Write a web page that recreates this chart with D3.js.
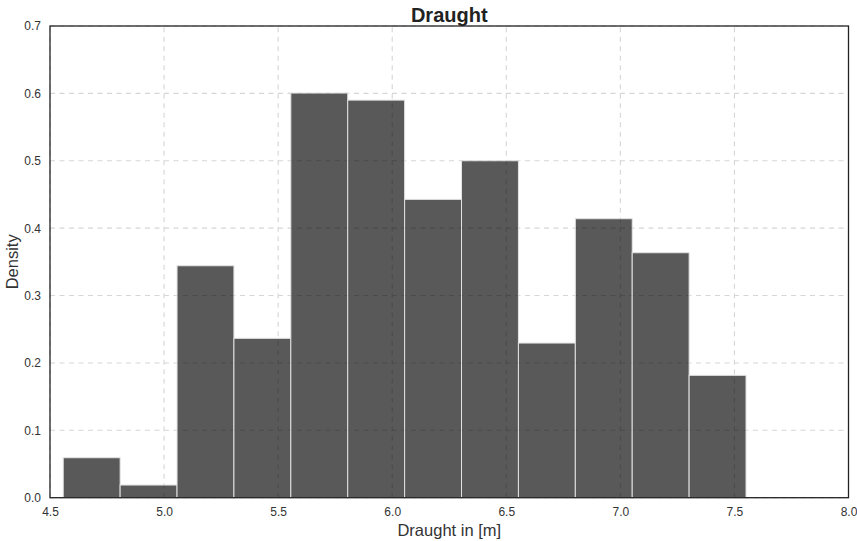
<!DOCTYPE html>
<html>
<head>
<meta charset="utf-8">
<script src="https://cdn.jsdelivr.net/npm/d3@7"></script>
<style>
  html, body { margin: 0; padding: 0; background: #fff; }
  svg { display: block; font-family: "Liberation Sans", Arial, sans-serif; }
</style>
</head>
<body>
<svg id="chart" width="857" height="541"></svg>
<script>
// Histogram of ship draught: bin edges and density per bin
const binStart = 4.558;
const binWidth = 0.2494;
const densities = [0.0593, 0.0188, 0.3442, 0.2365, 0.6005, 0.590, 0.4427, 0.500, 0.2295, 0.414, 0.3635, 0.1816];
const xTicks = [4.5, 5.0, 5.5, 6.0, 6.5, 7.0, 7.5, 8.0];
const yTicks = [0.0, 0.1, 0.2, 0.3, 0.4, 0.5, 0.6, 0.7];

const bins = densities.map((d, i) => ({
  x0: binStart + i * binWidth,
  x1: binStart + (i + 1) * binWidth,
  density: d
}));

const margin = { left: 50, right: 8.5, top: 26, bottom: 43.3 };
const width = 857, height = 541;
const svg = d3.select("#chart");

const x = d3.scaleLinear().domain([4.5, 8.0]).range([margin.left, width - margin.right]);
const y = d3.scaleLinear().domain([0, 0.7]).range([height - margin.bottom, margin.top]);

// dashed grid
const grid = svg.append("g");
grid.selectAll("line.gx").data(xTicks).join("line")
  .attr("x1", d => x(d)).attr("x2", d => x(d))
  .attr("y1", y(0)).attr("y2", y(0.7))
  .attr("stroke", "#d6d6d6").attr("stroke-width", 1.1)
  .attr("stroke-dasharray", "5,4.5");
grid.selectAll("line.gy").data(yTicks).join("line")
  .attr("x1", x(4.5)).attr("x2", x(8.0))
  .attr("y1", d => y(d)).attr("y2", d => y(d))
  .attr("stroke", "#d6d6d6").attr("stroke-width", 1.1)
  .attr("stroke-dasharray", "5,4.5");

// bars
svg.append("g").selectAll("rect").data(bins).join("rect")
  .attr("x", d => x(d.x0))
  .attr("width", d => x(d.x1) - x(d.x0))
  .attr("y", d => y(d.density))
  .attr("height", d => y(0) - y(d.density))
  .attr("fill", "#000").attr("fill-opacity", 0.65)
  .attr("stroke", "#e2e2e2").attr("stroke-width", 1);

// axes (labels only, no tick marks)
const xAxis = svg.append("g")
  .attr("transform", `translate(0,${y(0)})`)
  .call(d3.axisBottom(x).tickValues(xTicks).tickFormat(d3.format(".1f")).tickSize(0).tickPadding(10));
const yAxis = svg.append("g")
  .attr("transform", `translate(${x(4.5)},0)`)
  .call(d3.axisLeft(y).tickValues(yTicks).tickFormat(d3.format(".1f")).tickSize(0).tickPadding(9));
[xAxis, yAxis].forEach(a => {
  a.select(".domain").remove();
  a.selectAll("text").attr("font-size", 12).attr("fill", "#333")
    .attr("font-family", "'Liberation Sans', Arial, sans-serif");
});

// frame
svg.append("rect")
  .attr("x", x(4.5)).attr("y", y(0.7))
  .attr("width", x(8.0) - x(4.5)).attr("height", y(0) - y(0.7))
  .attr("fill", "none").attr("stroke", "#222").attr("stroke-width", 1.3);

// titles
svg.append("text")
  .attr("x", (x(4.5) + x(8.0)) / 2).attr("y", 22)
  .attr("text-anchor", "middle").attr("font-size", 20).attr("font-weight", "bold")
  .attr("fill", "#222").text("Draught");
svg.append("text")
  .attr("x", (x(4.5) + x(8.0)) / 2).attr("y", 536)
  .attr("text-anchor", "middle").attr("font-size", 16.5).attr("fill", "#333")
  .text("Draught in [m]");
svg.append("text")
  .attr("transform", `translate(18,${(y(0) + y(0.7)) / 2}) rotate(-90)`)
  .attr("text-anchor", "middle").attr("font-size", 16.5).attr("fill", "#333")
  .text("Density");
</script>
</body>
</html>
